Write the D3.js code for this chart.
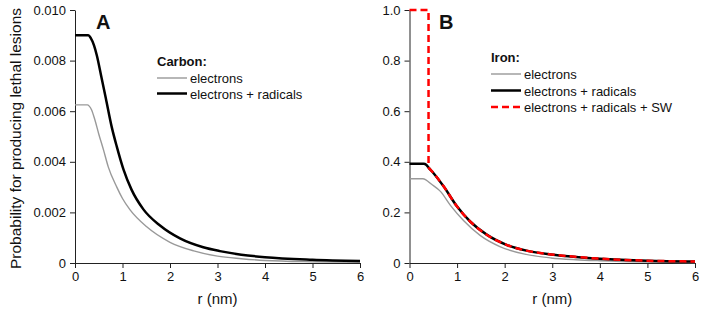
<!DOCTYPE html>
<html>
<head>
<meta charset="utf-8">
<script src="https://cdn.jsdelivr.net/npm/d3@7"></script>
<style>
  body { margin: 0; background: #fff; }
  svg text { font-family: "Liberation Sans", Arial, sans-serif; fill: #111; }
  .axis path, .axis line { stroke: #222; stroke-width: 1; }
  .axis text { font-size: 13px; }
</style>
</head>
<body>
<div id="chart"></div>
<script>
// radius values (nm) and probabilities
var carbonElR   = [0, 0.26, 0.3, 0.35, 0.42, 0.5, 0.6, 0.7, 0.88, 1.0, 1.16, 1.51, 2.0, 2.5, 3.0, 3.5, 4, 5, 6];
var carbonElV   = [0.00625, 0.00625, 0.0062, 0.00605, 0.00565, 0.0051, 0.00447, 0.0038, 0.003, 0.00255, 0.0021, 0.00143, 0.00082, 0.00048, 0.00027, 0.00017, 0.0001, 0.00005, 0.00003];
var carbonRadR  = [0, 0.28, 0.33, 0.4, 0.46, 0.55, 0.65, 0.77, 0.88, 1.02, 1.19, 1.44, 1.79, 2.21, 2.7, 3.05, 3.5, 4, 5, 6];
var carbonRadV  = [0.009, 0.009, 0.0089, 0.0086, 0.0082, 0.0074, 0.0065, 0.0054, 0.0046, 0.0037, 0.0029, 0.00212, 0.00148, 0.00097, 0.00062, 0.00047, 0.00033, 0.00023, 0.00013, 0.00008];

var ironElR  = [0, 0.28, 0.35, 0.45, 0.65, 0.86, 1.14, 1.49, 1.91, 2.4, 2.97, 3.5, 4, 5, 6];
var ironElV  = [0.333, 0.333, 0.328, 0.313, 0.283, 0.228, 0.167, 0.108, 0.064, 0.036, 0.02, 0.013, 0.009, 0.004, 0.002];
var ironRadR = [0, 0.3, 0.35, 0.4, 0.51, 0.72, 1.0, 1.28, 1.63, 2.05, 2.48, 2.97, 3.5, 4, 5, 6];
var ironRadV = [0.392, 0.392, 0.388, 0.377, 0.354, 0.302, 0.223, 0.163, 0.111, 0.071, 0.048, 0.034, 0.024, 0.017, 0.009, 0.006];
// SW step: flat at 1.0 out to the core edge, then drops onto the radicals curve
var ironSWStepR = [0, 0.4, 0.4];
var ironSWStepV = [1.0, 1.0, 0.377];

var xTicks  = [0, 1, 2, 3, 4, 5, 6];
var yTicksA = [0, 0.002, 0.004, 0.006, 0.008, 0.010];
var yTicksB = [0, 0.2, 0.4, 0.6, 0.8, 1.0];

var legendA = ["electrons", "electrons + radicals"];
var legendB = ["electrons", "electrons + radicals", "electrons + radicals + SW"];

var svg = d3.select("#chart").append("svg")
    .attr("width", 706)
    .attr("height", 313);

function zip(r, v) {
    return r.map(function(d, i) { return { r: d, v: v[i] }; });
}

function panel(opts) {
    var x = d3.scaleLinear().domain([0, 6]).range([opts.left, opts.right]);
    var y = d3.scaleLinear().domain([0, opts.ymax]).range([263, 10]);

    var xAxis = d3.axisBottom(x).tickValues(xTicks).tickSize(5).tickSizeOuter(0).tickPadding(4)
        .tickFormat(d3.format("d"));
    var yAxis = d3.axisLeft(y).tickValues(opts.yTicks).tickSize(5).tickSizeOuter(0).tickPadding(4)
        .tickFormat(function(d) { return d === 0 ? "0" : d3.format(opts.fmt)(d); });

    svg.append("g").attr("class", "axis")
        .attr("transform", "translate(0,263)")
        .call(xAxis);
    svg.append("g").attr("class", "axis")
        .attr("transform", "translate(" + opts.left + ",0)")
        .call(yAxis);

    svg.selectAll(".axis text").attr("fill", "#111");

    svg.append("text")
        .attr("x", (opts.left + opts.right) / 2)
        .attr("y", 304)
        .attr("text-anchor", "middle")
        .style("font-size", "15px")
        .text("r (nm)");

    svg.append("text")
        .attr("x", opts.letterX)
        .attr("y", 29)
        .style("font-size", "20px")
        .style("font-weight", "bold")
        .text(opts.letter);

    var line = d3.line()
        .x(function(d) { return x(d.r); })
        .y(function(d) { return y(d.v); });

    opts.series.forEach(function(s) {
        svg.append("path")
            .datum(s.data)
            .attr("fill", "none")
            .attr("stroke", s.color)
            .attr("stroke-width", s.width)
            .attr("stroke-dasharray", s.dash || null)
            .attr("d", line.curve(s.linear ? d3.curveLinear : d3.curveMonotoneX)(s.data));
    });

    // legend
    var lg = svg.append("g").attr("transform", "translate(" + opts.legX + "," + opts.legY + ")");
    lg.append("text")
        .attr("x", 0)
        .attr("y", 0)
        .style("font-size", "13px")
        .style("font-weight", "bold")
        .text(opts.title);
    opts.legend.forEach(function(name, i) {
        var s = opts.legendStyle[i];
        var yy = opts.legFirst + i * opts.legStep;
        lg.append("line")
            .attr("x1", 0).attr("x2", 30)
            .attr("y1", yy).attr("y2", yy)
            .attr("stroke", s.color)
            .attr("stroke-width", s.width)
            .attr("stroke-dasharray", s.dash || null);
        lg.append("text")
            .attr("x", 33)
            .attr("y", yy + 5)
            .style("font-size", "13px")
            .text(name);
    });
}

var gray  = { color: "#999", width: 1.4 };
var black = { color: "#000", width: 2.5 };
var red   = { color: "#f00", width: 2.5, dash: "7,4" };

panel({
    left: 75, right: 360, ymax: 0.010, yTicks: yTicksA, fmt: ".3f",
    letter: "A", letterX: 96,
    series: [
        { data: zip(carbonElR, carbonElV), color: gray.color, width: gray.width },
        { data: zip(carbonRadR, carbonRadV), color: black.color, width: black.width }
    ],
    title: "Carbon:", legX: 157, legY: 66, legFirst: 12, legStep: 15.5,
    legend: legendA, legendStyle: [gray, black]
});

var ironRad = zip(ironRadR, ironRadV);
panel({
    left: 409.5, right: 695, ymax: 1.0, yTicks: yTicksB, fmt: ".1f",
    letter: "B", letterX: 439,
    series: [
        { data: zip(ironElR, ironElV), color: gray.color, width: gray.width },
        { data: ironRad, color: black.color, width: black.width },
        { data: zip(ironSWStepR, ironSWStepV), color: red.color, width: red.width, dash: red.dash, linear: true },
        { data: ironRad.filter(function(d) { return d.r >= 0.4; }), color: red.color, width: red.width, dash: red.dash }
    ],
    title: "Iron:", legX: 491, legY: 62, legFirst: 12, legStep: 16.5,
    legend: legendB, legendStyle: [gray, black, red]
});

svg.append("text")
    .attr("transform", "translate(21,138.5) rotate(-90)")
    .attr("text-anchor", "middle")
    .style("font-size", "15.5px")
    .text("Probability for producing lethal lesions");
</script>
</body>
</html>
